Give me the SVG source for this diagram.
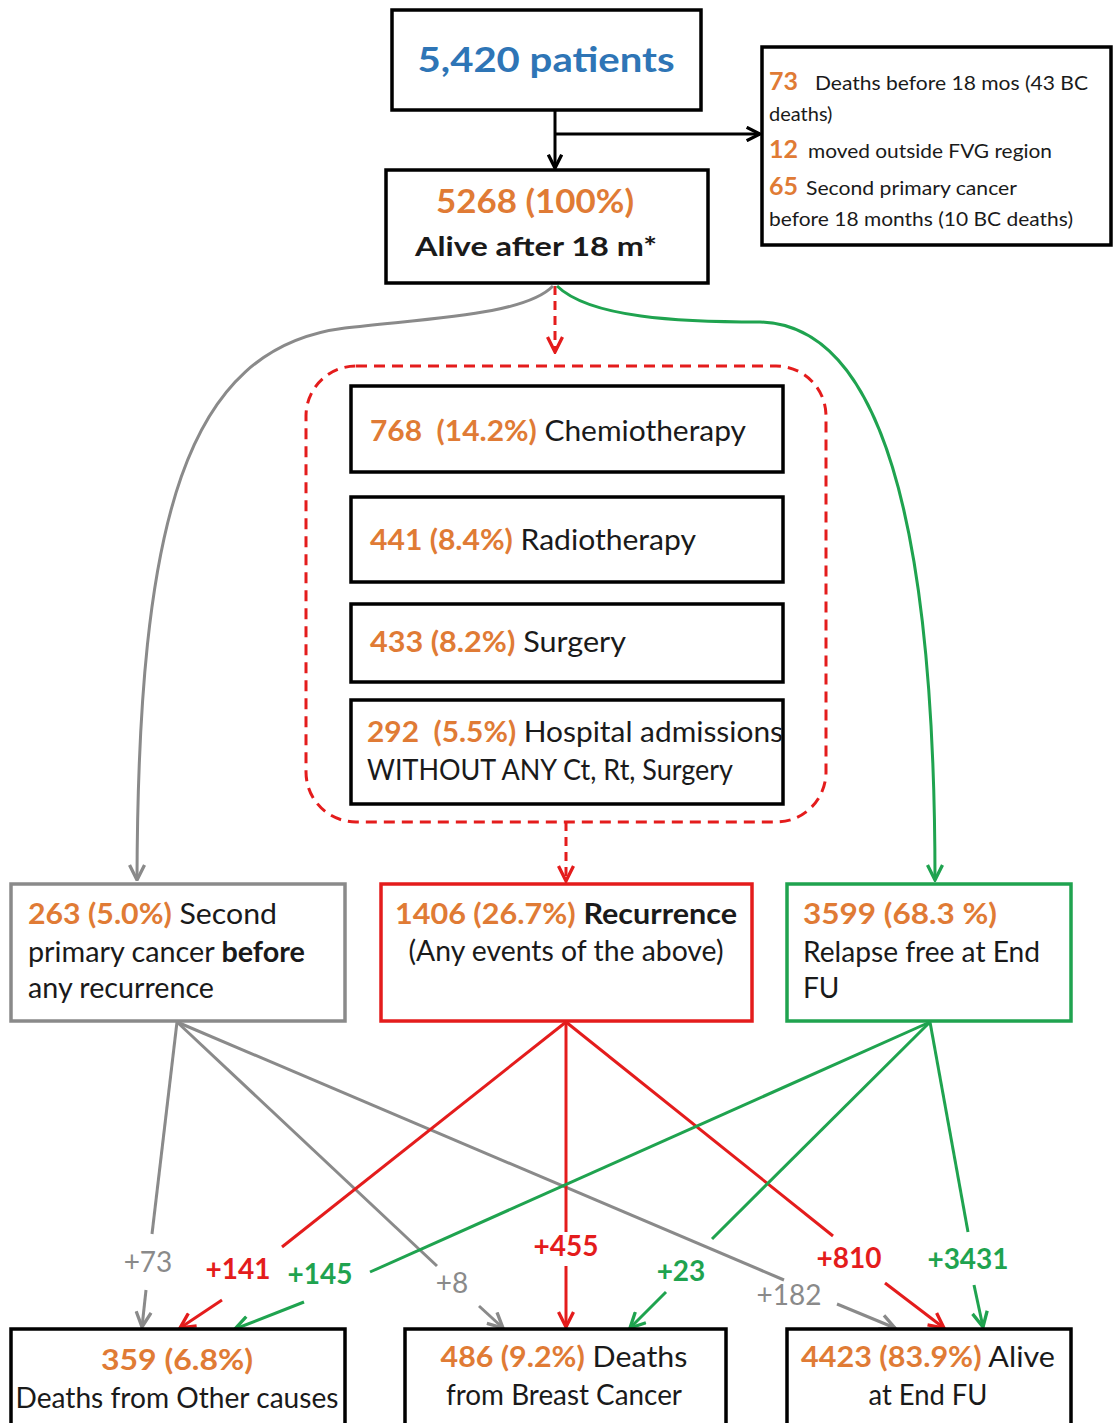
<svg xmlns="http://www.w3.org/2000/svg" width="1113" height="1423" viewBox="0 0 1113 1423">
<style>
text{font-family:Lato,"Liberation Sans",sans-serif;fill:#1a1a1a}
.box{fill:#fff;stroke:#000;stroke-width:3.5}
.or{fill:#E07B35;font-weight:bold}
.b{font-weight:bold}
.t26{font-size:28px}
.t19{font-size:20px}
.ln{fill:none;stroke-width:3}
.gr{stroke:#8a8a8a}.rd{stroke:#E41C1C}.gn{stroke:#1FA34F}.bk{stroke:#000}
.lg{fill:#8a8a8a;font-size:28px}
.lr{fill:#E41C1C;font-size:28px;font-weight:bold}
.lgn{fill:#1FA34F;font-size:28px;font-weight:bold}
</style>
<defs>
<marker id="ak" viewBox="0 0 12 12" refX="11" refY="6" markerWidth="16" markerHeight="16" orient="auto" markerUnits="userSpaceOnUse"><path d="M1,1 L11,6 L1,11" fill="none" stroke="#000" stroke-width="2.5"/></marker>
<marker id="ag" viewBox="0 0 12 12" refX="11" refY="6" markerWidth="18" markerHeight="18" orient="auto" markerUnits="userSpaceOnUse"><path d="M1,1 L11,6 L1,11" fill="none" stroke="#8a8a8a" stroke-width="2.2"/></marker>
<marker id="ar" viewBox="0 0 12 12" refX="11" refY="6" markerWidth="18" markerHeight="18" orient="auto" markerUnits="userSpaceOnUse"><path d="M1,1 L11,6 L1,11" fill="none" stroke="#E41C1C" stroke-width="2.2"/></marker>
<marker id="an" viewBox="0 0 12 12" refX="11" refY="6" markerWidth="18" markerHeight="18" orient="auto" markerUnits="userSpaceOnUse"><path d="M1,1 L11,6 L1,11" fill="none" stroke="#1FA34F" stroke-width="2.2"/></marker>
</defs>
<rect width="1113" height="1423" fill="#fff"/>

<g id="connectors">
<line class="ln bk" x1="555" y1="110" x2="555" y2="168" marker-end="url(#ak)"/>
<line class="ln bk" x1="555" y1="134" x2="760" y2="134" marker-end="url(#ak)"/>
<line class="ln rd" x1="555" y1="286" x2="555" y2="352" stroke-dasharray="9,6" marker-end="url(#ar)"/>
<path class="ln gr" d="M553,286 C525,315 430,318 345,328 C185,348 138,520 137,880" marker-end="url(#ag)"/>
<path class="ln gn" d="M557,286 C590,318 680,322 760,322 C880,325 935,520 935,880" marker-end="url(#an)"/>
<rect x="306" y="366" width="520" height="456" rx="50" fill="none" stroke="#E41C1C" stroke-width="3" stroke-dasharray="11,7"/>
<line class="ln rd" x1="566" y1="822" x2="566" y2="881" stroke-dasharray="9,6" marker-end="url(#ar)"/>

<line class="ln gr" x1="177" y1="1022" x2="152" y2="1234"/>
<line class="ln gr" x1="146" y1="1290" x2="142" y2="1327" marker-end="url(#ag)"/>
<line class="ln gr" x1="177" y1="1022" x2="437" y2="1266"/>
<line class="ln gr" x1="479" y1="1306" x2="503" y2="1328" marker-end="url(#ag)"/>
<line class="ln gr" x1="177" y1="1022" x2="784" y2="1280"/>
<line class="ln gr" x1="837" y1="1304" x2="895" y2="1328" marker-end="url(#ag)"/>

<line class="ln rd" x1="566" y1="1022" x2="282" y2="1247"/>
<line class="ln rd" x1="222" y1="1300" x2="180" y2="1328" marker-end="url(#ar)"/>
<line class="ln rd" x1="566" y1="1022" x2="566" y2="1232"/>
<line class="ln rd" x1="566" y1="1266" x2="566" y2="1327" marker-end="url(#ar)"/>
<line class="ln rd" x1="566" y1="1022" x2="833" y2="1236"/>
<line class="ln rd" x1="885" y1="1283" x2="944" y2="1328" marker-end="url(#ar)"/>

<line class="ln gn" x1="930" y1="1022" x2="370" y2="1272"/>
<line class="ln gn" x1="304" y1="1302" x2="235" y2="1329" marker-end="url(#an)"/>
<line class="ln gn" x1="930" y1="1022" x2="712" y2="1239"/>
<line class="ln gn" x1="666" y1="1292" x2="630" y2="1328" marker-end="url(#an)"/>
<line class="ln gn" x1="930" y1="1022" x2="968" y2="1232"/>
<line class="ln gn" x1="974" y1="1285" x2="983" y2="1327" marker-end="url(#an)"/>

<text class="lg" x="148" y="1272" text-anchor="middle">+73</text>
<text class="lr" x="238" y="1279" text-anchor="middle">+141</text>
<text class="lgn" x="320" y="1284" text-anchor="middle">+145</text>
<text class="lg" x="452" y="1293" text-anchor="middle">+8</text>
<text class="lr" x="566" y="1256" text-anchor="middle">+455</text>
<text class="lgn" x="681" y="1281" text-anchor="middle">+23</text>
<text class="lg" x="789" y="1305" text-anchor="middle">+182</text>
<text class="lr" x="849" y="1268" text-anchor="middle">+810</text>
<text class="lgn" x="968" y="1269" text-anchor="middle">+3431</text>
</g>

<g id="n-patients">
<rect class="box" x="392" y="10" width="309" height="100"/>
<text x="546" y="72" text-anchor="middle" font-size="35" font-weight="bold" style="fill:#2E75B6" textLength="257" lengthAdjust="spacingAndGlyphs">5,420 patients</text>
</g>

<g id="n-excluded">
<rect class="box" x="762" y="47" width="349" height="198"/>
<text class="t19" x="769" y="90"><tspan class="or" font-size="25">73</tspan><tspan x="815" textLength="273" lengthAdjust="spacingAndGlyphs">Deaths before 18 mos  (43 BC</tspan></text>
<text class="t19" x="769" y="121">deaths)</text>
<text class="t19" x="769" y="158"><tspan class="or" font-size="25">12</tspan><tspan x="808" textLength="244" lengthAdjust="spacingAndGlyphs">moved outside FVG region</tspan></text>
<text class="t19" x="769" y="195"><tspan class="or" font-size="25">65</tspan><tspan x="806" textLength="211" lengthAdjust="spacingAndGlyphs">Second primary cancer</tspan></text>
<text class="t19" x="769" y="226" textLength="304" lengthAdjust="spacingAndGlyphs">before 18 months (10 BC deaths)</text>
</g>

<g id="n-alive18">
<rect class="box" x="386" y="170" width="322" height="113"/>
<text x="436" y="213" class="or" font-size="33" textLength="198" lengthAdjust="spacingAndGlyphs">5268 (100%)</text>
<text x="415" y="256" class="b" font-size="27" textLength="242" lengthAdjust="spacingAndGlyphs">Alive after 18 m*</text>
</g>

<g id="n-chemo">
<rect class="box" x="351" y="386" width="432" height="86"/>
<text class="t26" x="370" y="441" textLength="376" lengthAdjust="spacingAndGlyphs" xml:space="preserve"><tspan class="or">768  (14.2%)</tspan> Chemiotherapy</text>
</g>
<g id="n-radio">
<rect class="box" x="351" y="497" width="432" height="85"/>
<text class="t26" x="370" y="550" textLength="326" lengthAdjust="spacingAndGlyphs"><tspan class="or">441 (8.4%)</tspan> Radiotherapy</text>
</g>
<g id="n-surgery">
<rect class="box" x="351" y="604" width="432" height="78"/>
<text class="t26" x="370" y="652" textLength="256" lengthAdjust="spacingAndGlyphs"><tspan class="or">433 (8.2%)</tspan> Surgery</text>
</g>
<g id="n-hospital">
<rect class="box" x="351" y="700" width="432" height="104"/>
<text class="t26" x="367" y="742" textLength="416" lengthAdjust="spacingAndGlyphs" xml:space="preserve"><tspan class="or">292  (5.5%)</tspan> Hospital admissions</text>
<text class="t26" x="367" y="780" textLength="366" lengthAdjust="spacingAndGlyphs">WITHOUT ANY Ct, Rt, Surgery</text>
</g>

<g id="n-second">
<rect x="11" y="884" width="334" height="137" fill="#fff" stroke="#8a8a8a" stroke-width="3.5"/>
<text class="t26" x="28" y="924" textLength="249" lengthAdjust="spacingAndGlyphs"><tspan class="or">263 (5.0%)</tspan> Second</text>
<text class="t26" x="28" y="962" textLength="277" lengthAdjust="spacingAndGlyphs">primary cancer <tspan class="b">before</tspan></text>
<text class="t26" x="28" y="998" textLength="186" lengthAdjust="spacingAndGlyphs">any recurrence</text>
</g>
<g id="n-recurrence">
<rect x="381" y="884" width="371" height="137" fill="#fff" stroke="#E41C1C" stroke-width="3.5"/>
<text class="t26" x="395" y="924" textLength="342" lengthAdjust="spacingAndGlyphs"><tspan class="or">1406 (26.7%)</tspan> <tspan class="b">Recurrence</tspan></text>
<text class="t26" x="566" y="961" text-anchor="middle" textLength="315" lengthAdjust="spacingAndGlyphs">(Any events of the above)</text>
</g>
<g id="n-relapsefree">
<rect x="787" y="884" width="284" height="137" fill="#fff" stroke="#1FA34F" stroke-width="3.5"/>
<text class="t26" x="803" y="924" textLength="194" lengthAdjust="spacingAndGlyphs"><tspan class="or">3599 (68.3 %)</tspan></text>
<text class="t26" x="803" y="962" textLength="237" lengthAdjust="spacingAndGlyphs">Relapse free at End</text>
<text class="t26" x="803" y="998">FU</text>
</g>

<g id="n-deaths-other">
<rect class="box" x="11" y="1329" width="334" height="100"/>
<text class="t26" x="177" y="1370" text-anchor="middle" textLength="152" lengthAdjust="spacingAndGlyphs"><tspan class="or">359 (6.8%)</tspan></text>
<text class="t26" x="177" y="1408" text-anchor="middle" textLength="323" lengthAdjust="spacingAndGlyphs">Deaths from Other causes</text>
</g>
<g id="n-deaths-bc">
<rect class="box" x="405" y="1329" width="321" height="100"/>
<text class="t26" x="564" y="1367" text-anchor="middle" textLength="247" lengthAdjust="spacingAndGlyphs"><tspan class="or">486 (9.2%)</tspan> Deaths</text>
<text class="t26" x="564" y="1405" text-anchor="middle" textLength="236" lengthAdjust="spacingAndGlyphs">from Breast Cancer</text>
</g>
<g id="n-alive-end">
<rect class="box" x="787" y="1329" width="284" height="100"/>
<text class="t26" x="928" y="1367" text-anchor="middle" textLength="254" lengthAdjust="spacingAndGlyphs"><tspan class="or">4423 (83.9%)</tspan> Alive</text>
<text class="t26" x="928" y="1405" text-anchor="middle" textLength="119" lengthAdjust="spacingAndGlyphs">at End FU</text>
</g>
</svg>
